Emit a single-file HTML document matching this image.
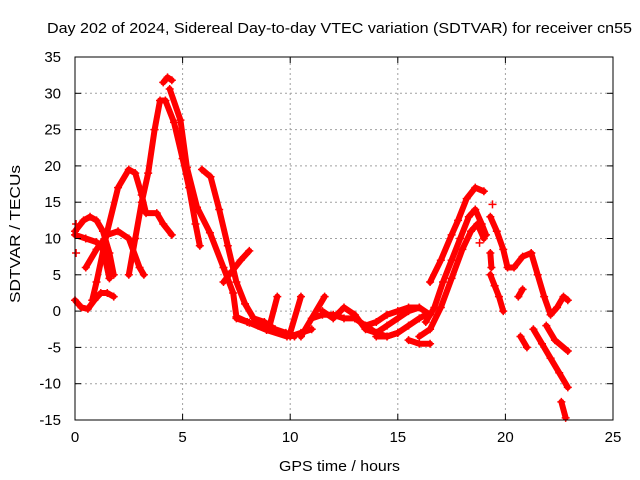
<!DOCTYPE html>
<html><head><meta charset="utf-8"><style>
body{margin:0;background:#fff}
svg{display:block;font-family:"Liberation Sans",sans-serif}
</style></head><body>
<svg id="chart" width="640" height="480">
<rect width="640" height="480" fill="#fff"/>
<text x="47" y="33" font-size="15" textLength="585" lengthAdjust="spacingAndGlyphs">Day 202 of 2024, Sidereal Day-to-day VTEC variation (SDTVAR) for receiver cn55</text>
<text x="279" y="471" font-size="15" textLength="121" lengthAdjust="spacingAndGlyphs">GPS time / hours</text>
<text transform="translate(20,303) rotate(-90)" font-size="15" textLength="138" lengthAdjust="spacingAndGlyphs">SDTVAR / TECUs</text>
<g id="grid"></g>
<g id="marks"></g>
<rect x="75" y="57" width="538" height="363" fill="none" stroke="#000" stroke-width="1"/>
<g id="ticks"></g>
</svg>
<script>
const xTicks=[0,5,10,15,20,25];
const yTicks=[35,30,25,20,15,10,5,0,-5,-10,-15];
// tracks: times (hours) and SDTVAR values
const tA=[0,0.4,0.7,1.0,1.3,1.6,1.8], vA=[11,12.5,13,12.5,11,8,5];
const tC=[0.5,1.0,1.5,2.0,2.5,3.0,3.2], vC=[6,8.5,10.5,11,10,6,5];
const tD=[0.8,1.0,1.5,2.0,2.5,2.8,3.1,3.3,3.8,4.1,4.5], vD=[1.5,4,11,17,19.5,19,16,13.5,13.5,12,10.5];
const tE=[0,0.3,0.6,0.9,1.2,1.5,1.8], vE=[1.5,0.5,0.3,1.5,2.5,2.5,2];
const tF=[0,0.5,1.0,1.3,1.6], vF=[10.5,10,9.5,8.5,4.5];
const tG=[2.5,2.8,3.1,3.4,3.7,3.95,4.2,4.6,5.0,5.3,5.6,5.8], vG=[5,10,15,19,25,29,29,26,21,17,12,9];
const tH=[4.4,4.9,5.2,5.67,6.27,6.9,7.35,7.5,8.1,8.9,9.85], vH=[30.6,26.3,19.8,14.3,10.8,6,2.5,-0.8,-1.6,-2.6,-3.5];
const tP=[4.1,4.3,4.5], vP=[31.5,32.2,31.8];
const tI=[5.9,6.3,6.7,7.1,7.5,7.9,8.3,8.8,9.3,9.8,10.2], vI=[19.5,18.5,14,9,4,1,-1,-1.5,-2.5,-3,-3.5];
const tJ=[6.9,7.3,7.7,8.1], vJ=[4,5.5,7,8.3];
const tM1=[7.5,8,8.5,9,9.5,10,10.5,11], vM1=[-1,-1.5,-2,-2.5,-3,-3.5,-3,-2.5];
const tS1=[9.0,9.4], vS1=[-2.5,2];
const tS2=[10.0,10.5], vS2=[-3,2];
const tS3=[10.5,11.6], vS3=[-3.5,2];
const tM3=[11,11.5,12,12.5,13,13.5,14,14.5,15], vM3=[-1,-0.5,-0.5,-1,-1,-2,-3,-3.5,-3];
const tM4=[11.5,12,12.5,13,13.5,14,14.5,15,15.5,16], vM4=[0,-1,0.5,-0.5,-2.5,-3,-2,-1,0,0.5];
const tM5=[13.5,14,14.5,15,15.5,16,16.5], vM5=[-2,-1.5,-0.5,0,0.5,0.5,-0.5];
const tM6=[14,14.5,15,15.5,16,16.3], vM6=[-3.5,-3.5,-3,-2,-1,-0.5];
const tL=[15.5,16,16.5], vL=[-4,-4.5,-4.5];
const tR1=[16.5,17,17.5,17.8,18.2,18.6,19.0], vR1=[4,7,10.5,12.5,15.5,17,16.5];
const tR2=[16.3,16.7,17.1,17.5,17.9,18.3,18.6,18.9,19.1], vR2=[-1.5,0.5,4,7,10,13,14,12,10.5];
const tR3=[16.0,16.5,17,17.5,18,18.4,18.7,19.0], vR3=[-3.5,-2.5,0.5,4.5,8.5,11,12,10];
const tU=[19.3,19.6,19.9,20.1,20.4,20.8,21.2], vU=[13,11,8.5,6,6,7.5,8];
const tV=[21.2,21.5,21.8,22.1,22.4,22.7,22.9], vV=[8,5,2,-0.5,0.5,2,1.5];
const tW=[19.3,19.5,19.7,19.9], vW=[5,3.5,2,0];
const tX1=[21.3,21.7,22.1,22.5,22.9], vX1=[-2.5,-4.5,-6.5,-8.5,-10.5];
const tX2=[21.9,22.3,22.9], vX2=[-2,-4,-5.5];
const tX3=[20.7,21.0], vX3=[-3.5,-5];
const tX4=[22.6,22.8], vX4=[-12.5,-14.7];
const tY=[19.3,19.35], vY=[8,6];
const tZ=[20.6,20.8], vZ=[2,3];
const tDot=[19.4,18.8,0.05,0.05], vDot=[14.7,9.4,8,12];

const tracks=[[tA,vA],[tC,vC],[tD,vD],[tE,vE],[tF,vF],[tG,vG],[tH,vH],[tP,vP],[tI,vI],[tJ,vJ],[tM1,vM1],[tS1,vS1],[tS2,vS2],[tS3,vS3],[tM3,vM3],[tM4,vM4],[tM5,vM5],[tM6,vM6],[tL,vL],[tR1,vR1],[tR2,vR2],[tR3,vR3],[tU,vU],[tV,vV],[tW,vW],[tX1,vX1],[tX2,vX2],[tX3,vX3],[tX4,vX4],[tY,vY],[tZ,vZ]];

const X0=75,X1=613,Y0=420,Y1=57;
function xs(t){return X0+(t-0)/(25-0)*(X1-X0);}
function ys(v){return Y0-(v+15)/(50)*(Y0-Y1);}
const NS='http://www.w3.org/2000/svg';
const grid=document.getElementById('grid'),ticks=document.getElementById('ticks'),marks=document.getElementById('marks');
function mk(tag,attrs,parent){const e=document.createElementNS(NS,tag);for(const k in attrs)e.setAttribute(k,attrs[k]);parent.appendChild(e);return e;}
xTicks.forEach(t=>{const x=xs(t);
 if(t>0&&t<25){const g=mk('line',{x1:x,x2:x,y1:Y0,y2:Y1,stroke:'#a0a0a0','stroke-dasharray':'2,3'},grid);
 
 }
 mk('line',{x1:x,x2:x,y1:Y0,y2:Y0-6,stroke:'#000'},ticks);
 mk('line',{x1:x,x2:x,y1:Y1,y2:Y1+6,stroke:'#000'},ticks);
 const l=mk('text',{x:x,y:Y0+22,'text-anchor':'middle','font-size':'15'},ticks);l.textContent=t;
 
 
});
yTicks.forEach(v=>{const y=ys(v);
 if(v>-15&&v<35){const g=mk('line',{x1:X0,x2:X1,y1:y,y2:y,stroke:'#a0a0a0','stroke-dasharray':'2,3'},grid);
 
 }
 mk('line',{x1:X0,x2:X0+6,y1:y,y2:y,stroke:'#000'},ticks);
 mk('line',{x1:X1,x2:X1-6,y1:y,y2:y,stroke:'#000'},ticks);
 const l=mk('text',{x:X0-14,y:y+5,'text-anchor':'end','font-size':'15'},ticks);l.textContent=v;
 
 
});
function plus(t,v){const x=xs(t),y=ys(v);
 const p=mk('path',{d:`M${x-4},${y}h8M${x},${y-4}v8`,stroke:'#f00','stroke-width':'1.5'},marks);
 
 }
tracks.forEach(([ts,vs])=>{
 const pl=mk('polyline',{points:ts.map((t,i)=>xs(t)+','+ys(vs[i])).join(' '),fill:'none',stroke:'#f00','stroke-width':'6','stroke-linejoin':'round','stroke-linecap':'round'},marks);
 
 
 ts.forEach((t,i)=>plus(t,vs[i]));
});
tDot.forEach((t,i)=>plus(t,vDot[i]));
</script>
</body></html>
